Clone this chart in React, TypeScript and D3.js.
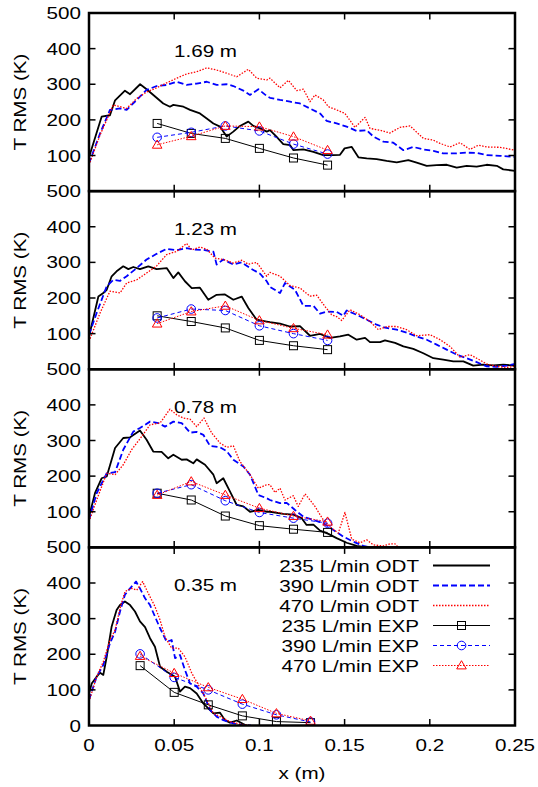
import React from 'react';
import * as d3 from 'd3';

type Pt = [number, number];

// axes
const xTicks = [0, 0.05, 0.1, 0.15, 0.2, 0.25];
const xTickLabels = ['0', '0.05', '0.1', '0.15', '0.2', '0.25'];
const yTicks = [0, 100, 200, 300, 400, 500];
const stations = ['1.69 m', '1.23 m', '0.78 m', '0.35 m'];

// ODT curves, [x (m), T RMS (K)]
const odt235_169: Pt[] = [[0,95],[0.0074,209],[0.0123,213],[0.0153,255],[0.0211,282],[0.0241,272],[0.030,300],[0.0338,286],[0.0436,246],[0.0475,237],[0.0495,242],[0.0554,237],[0.0593,228],[0.0651,218],[0.0691,204],[0.073,190],[0.0769,181],[0.0808,153],[0.0847,167],[0.0886,183],[0.0935,195],[0.0964,183],[0.1004,176],[0.1043,167],[0.1062,171],[0.110,153],[0.114,132],[0.118,129],[0.120,115],[0.1258,117],[0.1317,110],[0.1375,101],[0.1434,101],[0.1473,102],[0.150,120],[0.1542,124],[0.1581,95],[0.163,92],[0.1688,90],[0.1747,85],[0.1806,81],[0.1874,87],[0.1923,80],[0.1982,71],[0.204,73],[0.210,74],[0.2158,66],[0.2216,71],[0.2275,69],[0.2334,74],[0.2393,71],[0.2431,61],[0.25,57]];
const odt390_169: Pt[] = [[0,78],[0.0065,162],[0.0123,228],[0.0182,232],[0.0221,228],[0.028,256],[0.0338,284],[0.0397,295],[0.0456,298],[0.0515,307],[0.0573,298],[0.0632,302],[0.0691,307],[0.0749,298],[0.0808,300],[0.0847,295],[0.0906,282],[0.0945,270],[0.0994,286],[0.1043,267],[0.1062,262],[0.1121,256],[0.118,251],[0.1238,246],[0.1297,232],[0.1356,218],[0.1395,197],[0.1453,190],[0.1512,181],[0.1571,169],[0.163,171],[0.1669,153],[0.1727,139],[0.1786,136],[0.1845,115],[0.1903,124],[0.1962,117],[0.2021,113],[0.2079,106],[0.2158,106],[0.2216,108],[0.2275,107],[0.2334,101],[0.2412,99],[0.25,96]];
const odt470_169: Pt[] = [[0,73],[0.0065,158],[0.0143,242],[0.0182,237],[0.0221,232],[0.028,260],[0.0338,278],[0.0397,290],[0.0456,304],[0.0515,317],[0.0573,329],[0.0632,335],[0.0691,346],[0.0749,340],[0.0808,331],[0.0867,321],[0.0935,342],[0.0984,317],[0.1043,312],[0.1062,317],[0.1121,290],[0.117,311],[0.1219,282],[0.1258,286],[0.1297,251],[0.1326,270],[0.1375,256],[0.1405,237],[0.1453,228],[0.1502,218],[0.1561,179],[0.162,207],[0.1649,176],[0.1708,171],[0.1766,163],[0.1825,179],[0.1884,183],[0.1962,148],[0.2021,143],[0.206,134],[0.2119,124],[0.2177,136],[0.2236,117],[0.2285,129],[0.2334,124],[0.2412,123],[0.25,115]];

const odt235_123: Pt[] = [[0,92],[0.0055,204],[0.0084,214],[0.0104,223],[0.0133,261],[0.0162,275],[0.0201,289],[0.0231,281],[0.026,287],[0.0299,281],[0.0348,289],[0.0397,281],[0.0456,284],[0.0495,256],[0.0524,272],[0.0563,247],[0.0603,228],[0.0651,229],[0.07,195],[0.0749,209],[0.0798,210],[0.0847,195],[0.0896,204],[0.0935,172],[0.0984,139],[0.1043,134],[0.1062,132],[0.1121,128],[0.118,120],[0.1238,121],[0.1297,94],[0.1356,99],[0.1414,88],[0.1473,92],[0.1522,97],[0.1571,83],[0.162,88],[0.1649,76],[0.1708,76],[0.1737,81],[0.1796,74],[0.1845,64],[0.1903,57],[0.1962,45],[0.2021,31],[0.2079,27],[0.2138,22],[0.2197,22],[0.2255,10],[0.2314,13],[0.2373,11],[0.2431,13],[0.25,10]];
const odt390_123: Pt[] = [[0,97],[0.0045,158],[0.0104,233],[0.0143,251],[0.0182,248],[0.0221,261],[0.028,284],[0.0338,308],[0.0397,324],[0.0456,338],[0.0515,334],[0.0573,340],[0.0612,336],[0.0671,335],[0.073,330],[0.0749,294],[0.0788,308],[0.0847,294],[0.0896,300],[0.0945,284],[0.1004,268],[0.1043,247],[0.1062,231],[0.1121,214],[0.115,242],[0.1209,223],[0.1258,178],[0.1317,178],[0.1356,156],[0.1395,162],[0.1453,161],[0.1493,150],[0.1512,165],[0.1571,153],[0.163,139],[0.1688,125],[0.1737,117],[0.1806,111],[0.1864,103],[0.1923,92],[0.1982,83],[0.204,69],[0.2099,55],[0.2158,41],[0.2216,31],[0.2275,20],[0.2334,8],[0.2393,7],[0.2451,10],[0.25,15]];
const odt470_123: Pt[] = [[0,78],[0.0065,158],[0.0123,219],[0.0182,214],[0.0221,242],[0.028,251],[0.0338,270],[0.0397,290],[0.0456,322],[0.0515,331],[0.0573,353],[0.0603,335],[0.0651,343],[0.0691,337],[0.0739,312],[0.0788,308],[0.0847,298],[0.0896,306],[0.0935,295],[0.0984,300],[0.1043,261],[0.1062,272],[0.1121,261],[0.118,235],[0.1238,228],[0.1297,205],[0.1336,208],[0.1385,176],[0.1424,153],[0.1453,148],[0.1483,137],[0.1532,167],[0.159,153],[0.1649,134],[0.1698,111],[0.1747,120],[0.1806,120],[0.1864,111],[0.1923,94],[0.2001,97],[0.206,83],[0.2119,64],[0.2177,34],[0.2236,41],[0.2275,31],[0.2334,15],[0.2393,8],[0.2451,5],[0.25,8]];

const odt235_078: Pt[] = [[0,86],[0.0035,152],[0.0074,194],[0.0104,199],[0.0153,279],[0.0201,307],[0.0241,309],[0.0299,328],[0.0338,302],[0.0377,269],[0.0426,268],[0.0465,250],[0.0495,260],[0.0544,246],[0.0573,247],[0.0612,236],[0.0632,247],[0.0681,232],[0.073,204],[0.0749,180],[0.0788,194],[0.0827,157],[0.0867,119],[0.0906,115],[0.0945,100],[0.0994,105],[0.1043,100],[0.1062,100],[0.114,94],[0.1199,92],[0.1248,82],[0.1277,63],[0.1317,64],[0.1356,47],[0.1405,38],[0.1453,26],[0.1512,13],[0.1571,4],[0.163,0]];
const odt390_078: Pt[] = [[0,77],[0.0045,152],[0.0104,208],[0.0153,211],[0.0201,274],[0.026,325],[0.0299,335],[0.0358,353],[0.0407,349],[0.0446,339],[0.0495,353],[0.0544,349],[0.0593,322],[0.0632,324],[0.0671,316],[0.071,285],[0.0769,281],[0.0808,270],[0.0847,246],[0.0906,227],[0.0945,204],[0.0994,147],[0.1043,138],[0.1062,133],[0.1121,124],[0.116,125],[0.1209,105],[0.1258,86],[0.1317,77],[0.1375,68],[0.1434,49],[0.1493,30],[0.1551,16],[0.161,4],[0.1649,0]];
const odt470_078: Pt[] = [[0,72],[0.0045,133],[0.0104,208],[0.0153,204],[0.0201,232],[0.025,274],[0.0309,311],[0.0358,344],[0.0417,349],[0.0475,388],[0.0515,372],[0.0554,363],[0.0593,360],[0.0632,339],[0.0675,363],[0.072,321],[0.0769,293],[0.0808,281],[0.0847,285],[0.0886,241],[0.0945,204],[0.0994,166],[0.1043,176],[0.1062,176],[0.1092,154],[0.1121,166],[0.115,133],[0.1199,145],[0.1228,115],[0.1268,150],[0.1297,133],[0.1326,115],[0.1375,77],[0.1424,54],[0.1463,40],[0.1502,98],[0.1542,23],[0.159,13],[0.163,21],[0.1669,7],[0.1727,4],[0.1766,10],[0.1796,10],[0.1815,0]];

const odt235_035: Pt[] = [[0,90],[0.0016,118],[0.0045,137],[0.0065,148],[0.0084,142],[0.0104,193],[0.0133,278],[0.0162,324],[0.0182,338],[0.0211,348],[0.0241,338],[0.027,320],[0.0299,292],[0.0329,276],[0.0358,245],[0.0387,221],[0.0417,165],[0.0456,151],[0.0505,137],[0.0534,95],[0.0563,109],[0.0593,105],[0.0632,90],[0.0671,62],[0.07,48],[0.073,34],[0.0769,36],[0.0798,15],[0.0827,8],[0.0867,14],[0.0906,4],[0.0925,0]];
const odt390_035: Pt[] = [[0,72],[0.0045,137],[0.0084,170],[0.0123,231],[0.0153,263],[0.0182,320],[0.0211,367],[0.0241,385],[0.0276,404],[0.0299,385],[0.0329,357],[0.0358,338],[0.0387,306],[0.0417,273],[0.0456,235],[0.0485,240],[0.0505,189],[0.0534,198],[0.0563,156],[0.0593,118],[0.0632,109],[0.0671,90],[0.071,44],[0.0749,25],[0.0788,15],[0.0847,6],[0.0906,1],[0.095,0]];
const odt470_035: Pt[] = [[0,67],[0.0045,137],[0.0084,179],[0.0123,240],[0.0153,268],[0.0182,329],[0.0211,376],[0.025,385],[0.028,380],[0.0315,404],[0.0348,371],[0.0387,334],[0.0417,296],[0.0446,249],[0.0485,217],[0.0524,217],[0.0563,193],[0.0603,147],[0.0642,114],[0.0691,72],[0.073,34],[0.0769,25],[0.0827,11],[0.0886,4],[0.095,0]];

// experiments
const expXUpper = [0.04, 0.06, 0.08, 0.10, 0.12, 0.14];
const expXLower = [0.03, 0.05, 0.07, 0.09, 0.11, 0.13];
const exp235_169 = [190, 162, 148, 120, 93, 73];
const exp390_169 = [151, 165, 183, 169, 132, 104];
const exp470_169 = [130, 154, 183, 181, 153, 115];
const exp235_123 = [150, 134, 116, 81, 66, 55];
const exp390_123 = [144, 169, 165, 122, 100, 81];
const exp470_123 = [128, 162, 178, 137, 115, 97];
const exp235_078 = [152, 133, 88, 61, 51, 42];
const exp390_078 = [152, 176, 131, 98, 82, 68];
const exp470_078 = [147, 185, 147, 110, 88, 72];
const exp235_035 = [168, 93, 58, 27, 11, 8];
const exp390_035 = [201, 135, 100, 60, 30, 10];
const exp470_035 = [195, 147, 107, 74, 34, 13];

const legendLabels = ['235 L/min ODT', '390 L/min ODT', '470 L/min ODT', '235 L/min EXP', '390 L/min EXP', '470 L/min EXP'];

const panels = [
  { label: stations[0], odt: [odt235_169, odt390_169, odt470_169], ex: expXUpper, exp: [exp235_169, exp390_169, exp470_169] },
  { label: stations[1], odt: [odt235_123, odt390_123, odt470_123], ex: expXUpper, exp: [exp235_123, exp390_123, exp470_123] },
  { label: stations[2], odt: [odt235_078, odt390_078, odt470_078], ex: expXUpper, exp: [exp235_078, exp390_078, exp470_078] },
  { label: stations[3], odt: [odt235_035, odt390_035, odt470_035], ex: expXLower, exp: [exp235_035, exp390_035, exp470_035] },
];

const odtStyle = [
  { stroke: '#000', width: 1.8, dash: undefined as string | undefined },
  { stroke: '#0000ff', width: 1.8, dash: '6,3' },
  { stroke: '#ff0000', width: 1.3, dash: '1.5,1.5' },
];
const expStyle = [
  { stroke: '#000', width: 1, dash: undefined as string | undefined },
  { stroke: '#0000ff', width: 1, dash: '4,3' },
  { stroke: '#ff0000', width: 1, dash: '1.5,1.5' },
];

const FONT = '"Liberation Sans", Arial, Helvetica, sans-serif';
const FS = 16.5;
const SX = 1.25;

const left = 89, right = 515, top0 = 13, ph = 178.125;

function Marker({ kind, x, y }: { kind: number; x: number; y: number }) {
  if (kind === 0) return <rect x={x - 4} y={y - 4} width={8} height={8} fill="none" stroke="#000" strokeWidth={1} />;
  if (kind === 1) return <circle cx={x} cy={y} r={4.3} fill="none" stroke="#0000ff" strokeWidth={1} />;
  return <path d={`M${x},${y - 4.8}L${x + 4.8},${y + 3.4}L${x - 4.8},${y + 3.4}Z`} fill="none" stroke="#ff0000" strokeWidth={1} />;
}

function T({ x, y, children, anchor = 'middle', rotate = false }: any) {
  return (
    <text transform={`translate(${x},${y})${rotate ? ' rotate(-90)' : ''} scale(${SX},1)`} textAnchor={anchor}
      fontFamily={FONT} fontSize={FS} fill="#000">{children}</text>
  );
}

export default function App() {
  const x = d3.scaleLinear().domain([0, 0.25]).range([left, right]);
  const tickLen = 6.5;

  return (
    <svg width={538} height={787} style={{ position: 'absolute', left: 0, top: 0, background: '#fff' }}>
      <defs>
        {panels.map((p, i) => (
          <clipPath id={`clip${i}`} key={i}>
            <rect x={left} y={top0 + i * ph - 1} width={right - left} height={ph + 1} />
          </clipPath>
        ))}
      </defs>
      {panels.map((p, i) => {
        const top = top0 + i * ph;
        const y = d3.scaleLinear().domain([0, 500]).range([top + ph, top]);
        const line = d3.line<Pt>().x(d => x(d[0])).y(d => y(d[1]));
        const last = i === panels.length - 1;
        return (
          <g key={i}>
            <g clipPath={`url(#clip${i})`}>
              {p.odt.map((s, k) => (
                <path key={k} d={line(s) || ''} fill="none" stroke={odtStyle[k].stroke}
                  strokeWidth={odtStyle[k].width} strokeDasharray={odtStyle[k].dash} strokeLinejoin="round" />
              ))}
              {p.exp.map((vals, k) => {
                const pts: Pt[] = vals.map((v, j) => [p.ex[j], v]);
                return (
                  <g key={k}>
                    <path d={line(pts) || ''} fill="none" stroke={expStyle[k].stroke}
                      strokeWidth={expStyle[k].width} strokeDasharray={expStyle[k].dash} />
                    {pts.map((d, j) => <Marker key={j} kind={k} x={x(d[0])} y={y(d[1])} />)}
                  </g>
                );
              })}
            </g>
            {/* ticks */}
            {yTicks.slice(1, -1).map(t => (
              <g key={t}>
                <line x1={left} x2={left + tickLen} y1={y(t)} y2={y(t)} stroke="#000" strokeWidth={1.5} />
                <line x1={right} x2={right - tickLen} y1={y(t)} y2={y(t)} stroke="#000" strokeWidth={1.5} />
              </g>
            ))}
            {xTicks.slice(1, -1).map(t => (
              <g key={t}>
                <line x1={x(t)} x2={x(t)} y1={top} y2={top + tickLen} stroke="#000" strokeWidth={1.5} />
                <line x1={x(t)} x2={x(t)} y1={top + ph} y2={top + ph - tickLen} stroke="#000" strokeWidth={1.5} />
              </g>
            ))}
            <rect x={left} y={top} width={right - left} height={ph} fill="none" stroke="#000" strokeWidth={2.5} />
            {/* y tick labels */}
            {(last ? yTicks : yTicks.slice(1)).map(t => (
              <T key={t} x={81} y={y(t) + 6} anchor="end">{t}</T>
            ))}
            <T x={26} y={top + ph / 2} rotate>T RMS (K)</T>
            <T x={174} y={top + 43.5} anchor="start">{p.label}</T>
          </g>
        );
      })}
      {xTicks.map((t, i) => (
        <T key={t} x={x(t)} y={750.5}>{xTickLabels[i]}</T>
      ))}
      <T x={(left + right) / 2} y={779}>x (m)</T>
      {/* legend */}
      {legendLabels.map((lab, i) => {
        const ly = 565.5 + i * 20;
        const st = i < 3 ? odtStyle[i] : expStyle[i - 3];
        return (
          <g key={lab}>
            <T x={419} y={ly + 6} anchor="end">{lab}</T>
            <line x1={433} x2={490} y1={ly} y2={ly} stroke={st.stroke} strokeWidth={st.width} strokeDasharray={st.dash} />
            {i >= 3 && <Marker kind={i - 3} x={461.5} y={ly} />}
          </g>
        );
      })}
    </svg>
  );
}
